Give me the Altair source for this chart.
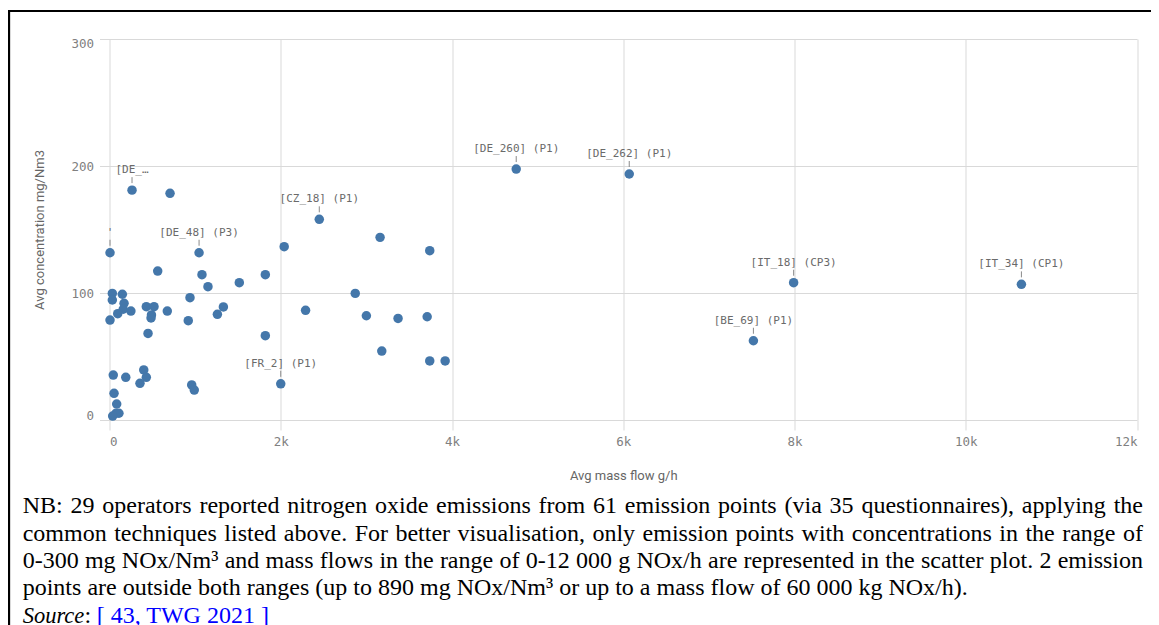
import altair as alt
import pandas as pd

# ---------------- data ----------------
MASS_FLOW = [6, 2040, 1046, 563, 1080, 1820, 1516, 1150, 33, 150,
             33, 940, 170, 160, 250, 430, 520, 675, 1330, 96,
             6, 490, 485, 1260, 920, 450, 1820, 44, 190, 400,
             430, 356, 960, 990, 2000, 53, 84, 110, 76, 37,
             263, 707, 2450, 3160, 3740, 2870, 2290, 3000, 3370, 3710,
             3180, 3740, 3920, 4750, 6070, 7990, 7520, 10650]
CONCENTRATION = [131.7, 136.5, 131.7, 117.3, 114.4, 114.4, 108.1, 105.0, 99.7, 99.0,
                 94.5, 96.3, 91.9, 87.2, 85.8, 89.2, 89.2, 85.8, 89.0, 83.7,
                 78.7, 82.7, 80.3, 83.2, 78.2, 68.2, 66.4, 35.4, 33.6, 39.4,
                 33.6, 28.9, 27.6, 23.6, 28.5, 21.0, 12.6, 5.3, 5.3, 3.1,
                 181.0, 178.5, 158.0, 143.8, 133.3, 99.7, 86.4, 82.1, 80.0, 81.3,
                 54.3, 46.5, 46.5, 197.6, 193.7, 108.1, 62.4, 106.8]
POINT_LABELS = ["'", "", "[DE_48] (P3)", "", "", "", "", "", "", "",
                "", "", "", "", "", "", "", "", "", "",
                "", "", "", "", "", "", "", "", "", "",
                "", "", "", "", "[FR_2] (P1)", "", "", "", "", "",
                "[DE_…", "", "[CZ_18] (P1)", "", "", "", "", "", "", "",
                "", "", "", "[DE_260] (P1)", "[DE_262] (P1)", "[IT_18] (CP3)", "[BE_69] (P1)", "[IT_34] (CP1)"]
X_TICKS = [0, 2000, 4000, 6000, 8000, 10000, 12000]
Y_TICKS = [0, 100, 200, 300]
X_TITLE = "Avg mass flow g/h"
Y_TITLE = "Avg concentration mg/Nm3"

NOTE_JUSTIFIED = [
    "NB: 29 operators reported nitrogen oxide emissions from 61 emission points (via 35 questionnaires), applying the",
    "common techniques listed above. For better visualisation, only emission points with concentrations in the range of",
    "0-300 mg NOx/Nm³ and mass flows in the range of 0-12 000 g NOx/h are represented in the scatter plot. 2 emission",
]
NOTE_LAST = "points are outside both ranges (up to 890 mg NOx/Nm³ or up to a mass flow of 60 000 kg NOx/h)."
SOURCE_WORD = "Source"
SOURCE_COLON = ":"
SOURCE_REF = "[ 43, TWG 2021 ]"

df = pd.DataFrame({"mass": MASS_FLOW, "conc": CONCENTRATION, "label": POINT_LABELS})

W, H = 1027.5, 381
PAD = {"left": 101.5, "top": 31, "right": 14, "bottom": 205}
GRID = "#d9d9d9"
BLUE = "#4477aa"

xs = alt.Scale(domain=[0, 12000], nice=False, zero=False)
ys = alt.Scale(domain=[0, 300], nice=False, zero=False)

base = alt.Chart(df)

points = base.mark_circle(size=90, opacity=1, color=BLUE).encode(
    x=alt.X("mass:Q", scale=xs, axis=alt.Axis(
        values=X_TICKS, title=X_TITLE,
        labelExpr="datum.value == 0 ? '0' : (datum.value / 1000) + 'k'",
        labelFlush=True, labelPadding=5, titleY=55, titleX=W / 2,
        titleBaseline="middle", titleAlign="center")),
    y=alt.Y("conc:Q", scale=ys, axis=alt.Axis(
        values=Y_TICKS, title=Y_TITLE, labelFlush=True, labelFlushOffset=2,
        labelPadding=6, titleX=-70, titleY=H / 2, titleAngle=-90,
        titleBaseline="middle", titleAlign="center")),
)

labelled = base.transform_filter("datum.label != ''")
ticks = labelled.mark_rule(yOffset=-7, y2Offset=-13, color="#8a8a8a", strokeWidth=1).encode(
    x="mass:Q", y="conc:Q", y2="conc:Q")
labels = labelled.mark_text(dy=-20, baseline="middle", align="center",
                            font="DejaVu Sans Mono", fontSize=11, color="#6a6a6a").encode(
    x="mass:Q", y="conc:Q", text="label:N")

one = pd.DataFrame({"a": [0]})
border_top = alt.Chart(one).mark_rule(color="black", strokeWidth=2).encode(
    x=alt.value(-101.5), x2=alt.value(W + 14), y=alt.value(-28))
border_left = alt.Chart(one).mark_rule(color="black", strokeWidth=2.5).encode(
    x=alt.value(-100.6), y=alt.value(-29), y2=alt.value(H + 205))

# ---------------- footnote (Times metrics, justified) ----------------
NOTE_FONT = "Liberation Serif"
NOTE_SIZE = 24
X0, X1 = -86.8, 1033.5
Y0, DY = 474.3, 27.3

TIMES = {" ": .25, "a": .444, "b": .5, "c": .444, "d": .5, "e": .444, "f": .333, "g": .5,
         "h": .5, "i": .278, "j": .278, "k": .5, "l": .278, "m": .778, "n": .5, "o": .5,
         "p": .5, "q": .5, "r": .333, "s": .389, "t": .278, "u": .5, "v": .5, "w": .722,
         "x": .5, "y": .5, "z": .444, ",": .25, ".": .25, ":": .278, "-": .333, "/": .278,
         "(": .333, ")": .333, "[": .333, "]": .333, "³": .3, "A": .722, "B": .667,
         "C": .667, "D": .722, "E": .611, "F": .556, "G": .722, "N": .722, "O": .722,
         "T": .611, "W": .944}


def text_width(s, size=NOTE_SIZE):
    return sum(TIMES.get(ch, .5) for ch in s) * size


def word_layer(word, xpos, ypos, size=NOTE_SIZE, **kw):
    return alt.Chart(pd.DataFrame({"t": [word]})).mark_text(
        align="left", baseline="alphabetic", font=NOTE_FONT, fontSize=size,
        **kw).encode(text="t:N", x=alt.value(xpos), y=alt.value(ypos))


notes = []
for i, line in enumerate(NOTE_JUSTIFIED):
    words = line.split(" ")
    widths = [text_width(w) for w in words]
    gap = (X1 - X0 - sum(widths)) / (len(words) - 1)
    xpos = X0
    for w, wd in zip(words, widths):
        notes.append(word_layer(w, xpos, Y0 + i * DY, color="black"))
        xpos += wd + gap
notes.append(word_layer(NOTE_LAST, X0, Y0 + 3 * DY, color="black"))
SRC_SIZE = 22.5
notes.append(word_layer(SOURCE_WORD, X0, Y0 + 4 * DY, size=SRC_SIZE, color="black", fontStyle="italic"))
notes.append(word_layer(SOURCE_COLON, X0 + text_width(SOURCE_WORD, SRC_SIZE) + 0.5, Y0 + 4 * DY,
                        color="black"))
notes.append(word_layer(SOURCE_REF, -12.8, Y0 + 4 * DY, color="#0000ff"))

chart = alt.layer(border_top, border_left, points, ticks, labels, *notes).properties(
    width=W, height=H,
    autosize=alt.AutoSizeParams(type="none"),
    padding=PAD,
).configure_view(stroke="transparent").configure_axis(
    domain=False, grid=True, gridColor=GRID, gridWidth=1,
    ticks=True, tickColor=GRID, tickSize=10,
    labelFont="DejaVu Sans Mono", labelFontSize=12.5, labelColor="#808080",
    titleFont="Roboto", titleFontSize=13, titleFontWeight="normal", titleColor="#666666",
)

chart.save("out.html", embed_options={"renderer": "svg", "actions": False})
